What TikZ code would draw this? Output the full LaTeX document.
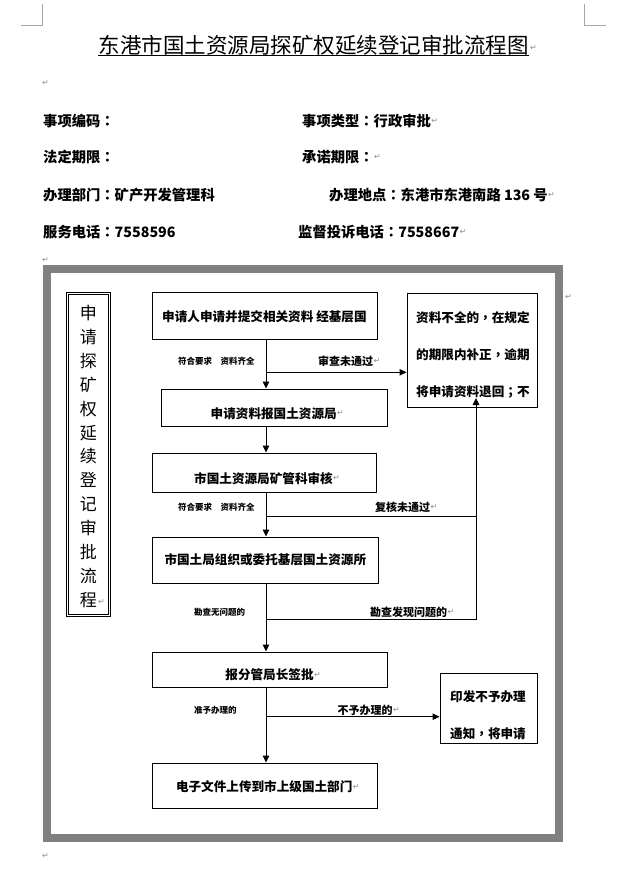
\documentclass[tikz,border=0pt]{standalone}
\usepackage{fontspec}
\setmainfont{Noto Sans CJK SC}
\newfontfamily\tcpunct{Noto Sans CJK TC}
\newfontfamily\dejavu{DejaVu Sans}
\newcommand{\cpu}[1]{{\tcpunct #1}}
\usetikzlibrary{arrows.meta}
\definecolor{framegray}{HTML}{808080}
\definecolor{markgray}{HTML}{8C8C8C}
\definecolor{cornergray}{HTML}{A6A6A6}
\begin{document}
\begin{tikzpicture}[x=1pt,y=-1pt,
  box/.style={draw, line width=1pt, inner sep=0pt},
  btext/.style={font=\bfseries\fontsize{12.6}{12.6}\selectfont, inner sep=0pt},
  smalllab/.style={font=\bfseries\fontsize{8.5}{8.5}\selectfont, inner sep=0pt, anchor=west},
  midlab/.style={font=\bfseries\fontsize{11}{11}\selectfont, inner sep=0pt, anchor=west},
  info/.style={font=\bfseries\fontsize{14.3}{14.3}\selectfont, inner sep=0pt, anchor=west},
  pm/.style={font=\dejavu\fontsize{8}{8}\selectfont, text=markgray, inner sep=0pt, anchor=west},
  arr/.style={line width=1pt, -{Triangle[length=7pt,width=6.5pt]}},
  conn/.style={line width=1pt},
]
\useasboundingbox (0,0) rectangle (640,870);
% page corner marks
\draw[cornergray, line width=0.8pt] (21,25) -- (42.7,25) -- (42.7,4);
\draw[cornergray, line width=0.8pt] (584,4) -- (584,25) -- (606,25);
% title
\node[font=\fontsize{21.5}{21.5}\selectfont, inner sep=0pt] (title) at (313.5,45) {东港市国土资源局探矿权延续登记审批流程图};
\draw[line width=1.2pt] (title.south west) -- (title.south east);
\node[pm] (pm1) at (530,48) {↵};
\node[pm] (pm2) at (42,83) {↵};
% info rows
\node[info] (i1) at (43,121) {事项编码\cpu{：}};
\node[info] (i2) at (302,121) {事项类型\cpu{：}行政审批};
\node[pm] (pm3) at (i2.east) {↵};
\node[info] (i3) at (43,157) {法定期限\cpu{：}};
\node[info] (i4) at (302,157) {承诺期限\cpu{：}};
\node[pm] (pm4) at (i4.east) {↵};
\node[info] (i5) at (43,195) {办理部门\cpu{：}矿产开发管理科};
\node[info] (i6) at (329,195) {办理地点\cpu{：}东港市东港南路 136 号};
\node[pm] (pm5) at (i6.east) {↵};
\node[info] (i7) at (43,232) {服务电话\cpu{：}7558596};
\node[info] (i8) at (298,232) {监督投诉电话\cpu{：}7558667};
\node[pm] (pm6) at (i8.east) {↵};
\node[pm] (pm7) at (42,260) {↵};
% outer frame
\draw[framegray, line width=8pt] (47,269) rectangle (559,838);
\node[pm] (pm8) at (565,297) {↵};
\node[pm] (pm9) at (42,856) {↵};
% vertical title
\node[draw, double, line width=0.9pt, double distance=1.2pt, minimum width=42pt, minimum height=322pt, inner sep=0pt] (vbox) at (88.5,454.5) {};
\node[font=\fontsize{17}{23.9}\selectfont, align=center, inner sep=0pt] (vt) at (88.3,456.5) {申\\请\\探\\矿\\权\\延\\续\\登\\记\\审\\批\\流\\程};
\node[pm] (pm10) at (98,602) {↵};
% boxes
\node[box, minimum width=225pt, minimum height=47pt] (b1) at (264.5,315.5) {};
\node[btext, anchor=west] (b1t) at (162,316.7) {申请人申请并提交相关资料 经基层国};
\node[box, minimum width=226pt, minimum height=37pt] (b2) at (274,407.5) {};
\node[btext] (b2t) at (273.7,413.3) {申请资料报国土资源局};
\node[pm] (pm11) at (b2t.east) {↵};
\node[box, minimum width=224pt, minimum height=39pt] (b3) at (264,472.5) {};
\node[btext, anchor=west] (b3t) at (194,478.3) {市国土资源局矿管科审核};
\node[pm] (pm12) at (b3t.east) {↵};
\node[box, minimum width=226pt, minimum height=46pt] (b4) at (265,560) {};
\node[btext, anchor=west] (b4t) at (164.3,560) {市国土局组织或委托基层国土资源所};
\node[box, minimum width=235pt, minimum height=35pt] (b5) at (269.5,669.5) {};
\node[btext] (b5t) at (269.5,675) {报分管局长签批};
\node[pm] (pm13) at (b5t.east) {↵};
\node[box, minimum width=225pt, minimum height=45pt] (b7) at (264.5,785.5) {};
\node[btext] (b7t) at (264.2,786.7) {电子文件上传到市上级国土部门};
\node[pm] (pm14) at (b7t.east) {↵};
% right boxes
\node[box, minimum width=130pt, minimum height=114pt] (r1) at (472,350) {};
\node[btext, anchor=west] (r1a) at (416,317.3) {资料不全的\cpu{，}在规定};
\node[btext, anchor=west] (r1b) at (416,354.3) {的期限内补正\cpu{，}逾期};
\node[btext, anchor=west] (r1c) at (416,391.7) {将申请资料退回\cpu{；}不};
\node[box, minimum width=97pt, minimum height=70pt] (r2) at (488.5,708) {};
\node[btext, anchor=west] (r2a) at (450,696.7) {印发不予办理};
\node[btext, anchor=west] (r2b) at (450,734) {通知\cpu{，}将申请};
% spine and junctions
\coordinate (sp) at (266,0);
\coordinate (rx) at (476,0);
\coordinate (j1) at (266,372.3);
\coordinate (j2) at (266,516.7);
\coordinate (j3) at (266,619.3);
\coordinate (j4) at (266,716.7);
\coordinate (r1tip) at (476,398);
% connectors
\draw[arr] (b1.south -| sp) -- (b2.north -| sp);
\draw[arr] (b2.south -| sp) -- (b3.north -| sp);
\draw[arr] (b3.south -| sp) -- (b4.north -| sp);
\draw[arr] (b4.south -| sp) -- (b5.north -| sp);
\draw[arr] (b5.south -| sp) -- (b7.north -| sp);
\draw[arr] (j1) -- (j1 -| r1.west);
\draw[conn] (j2) -- (j2 -| rx);
\draw[arr] (j3) -- (j3 -| rx) -- (r1tip);
\draw[arr] (j4) -- (j4 -| r2.west);
% labels
\node[smalllab] (l1) at (178,361) {符合要求　资料齐全};
\node[midlab] (l2) at (318,361) {审查未通过};
\node[pm] (pm15) at (l2.east) {↵};
\node[smalllab] (l3) at (178,507.7) {符合要求　资料齐全};
\node[midlab] (l4) at (375,507) {复核未通过};
\node[pm] (pm16) at (l4.east) {↵};
\node[smalllab] (l5) at (194,612.3) {勘查无问题的};
\node[midlab] (l6) at (370,612.3) {勘查发现问题的};
\node[pm] (pm17) at (l6.east) {↵};
\node[smalllab] (l7) at (194,710) {准予办理的};
\node[midlab] (l8) at (337.5,710) {不予办理的};
\node[pm] (pm18) at (l8.east) {↵};
\end{tikzpicture}
\end{document}
